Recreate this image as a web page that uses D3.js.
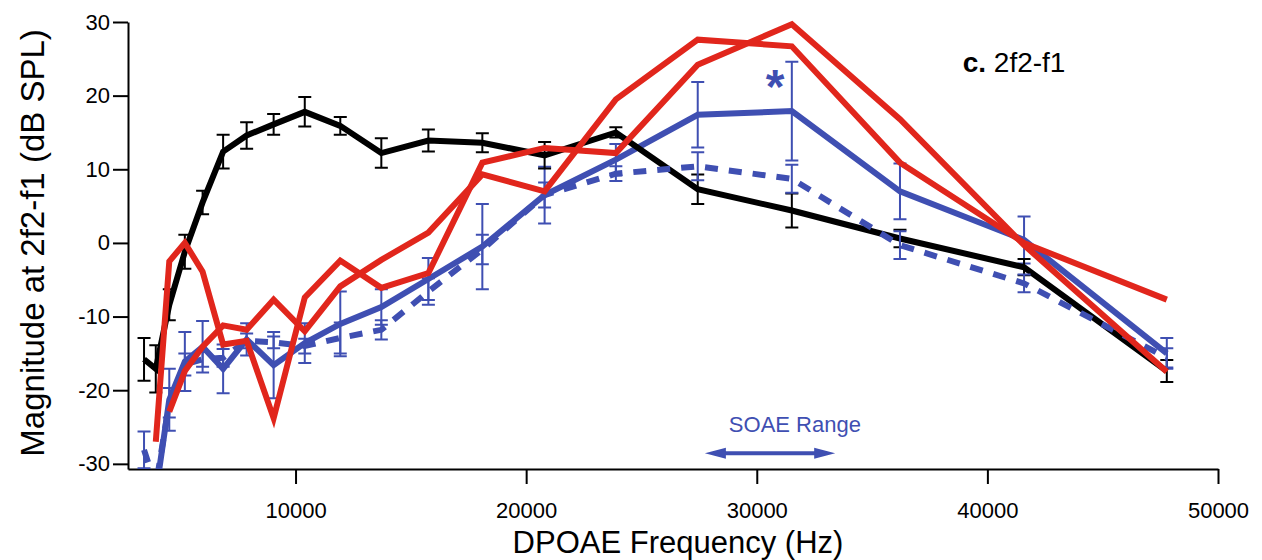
<!DOCTYPE html>
<html>
<head>
<meta charset="utf-8">
<script src="https://cdn.jsdelivr.net/npm/d3@7"></script>
<style>
  html, body { margin: 0; padding: 0; background: #fff; }
  svg { display: block; font-family: "Liberation Sans", Arial, Helvetica, sans-serif; }
  .axis path, .axis line { stroke: #000; stroke-width: 2; }
  .axis text { font-size: 22px; fill: #000; font-family: "Liberation Sans", Arial, Helvetica, sans-serif; }
</style>
</head>
<body>
<svg id="chart" width="1262" height="560"></svg>
<script>
// DPOAE frequencies (Hz), 1/5-octave steps
const freqs = [3430, 3940, 4525, 5200, 5970, 6860, 7880, 9050, 10400, 11940,
               13720, 15760, 18100, 20800, 23890, 27440, 31520, 36210, 41590, 47780];

// Mean magnitude at 2f2-f1 (dB SPL) and error bars
const blackMean = [-15.8, -17.1, -8.4, -1.2, 5.5, 12.4, 14.6, 16.1, 17.8, 15.9,
                   12.2, 13.9, 13.6, 11.9, 15.0, 7.3, 4.4, 0.6, -3.3, -17.4];
const blackErr  = [2.9, 3.2, 2.1, 2.3, 1.6, 2.3, 1.8, 1.4, 2.0, 1.2,
                   2.0, 1.5, 1.3, 1.8, 0.7, 2.0, 2.3, 1.2, 1.1, 1.5];

const blueSolid    = [null, -34, -21.3, -16.1, -14.1, -17.1, -13.1, -16.6, -13.6, -11.0,
                      -8.7, -4.9, -0.5, 6.5, 11.3, 17.4, 17.9, 7.0, 0.4, -15.0];
const blueSolidErr = [null, null, 4.2, 4.0, 3.5, 3.3, 2.2, 4.5, 2.7, 4.4,
                      2.4, 2.85, 5.8, 3.85, 2.15, 4.45, 6.7, 3.8, 3.2, 2.1];

const blueDashed    = [-28.1, -33, -21.7, -16.5, -15.8, -15.6, -13.3, -13.5, -14.0, -12.9,
                       -11.8, -6.6, -0.9, 6.5, 9.4, 10.4, 8.7, -0.3, -5.5, -15.6];
const blueDashedErr = [2.5, null, 2.0, 1.5, 1.0, 1.2, 1.0, 0.8, 1.0, 2.1,
                       1.3, 1.8, 2.0, 1.7, 1.0, 1.9, 1.9, 1.9, 1.2, 1.3];

// Individual ears (no error bars)
const redA = [null, null, -22.9, -17.4, -14.1, -11.2, -11.8, -7.7, -12.0, -5.9,
              -2.3, 1.4, 9.3, 7.0, 19.5, 27.6, 26.7, 10.9, 0.0, -7.7];
const redB = [null, -27.0, -2.5, 0.0, -3.9, -13.8, -13.3, -23.8, -7.4, -2.4,
              -6.1, -4.1, 10.9, 12.9, 12.2, 24.2, 29.7, 16.8, -0.3, -17.5];

const xTicks = [10000, 20000, 30000, 40000, 50000];
const yTicks = [-30, -20, -10, 0, 10, 20, 30];

// Spontaneous emission band and significance marker
const soaeRange = [27750, 33400];
const soaeLevel = -28.55;
const soaeLabel = "SOAE Range";
const starFreq = 30790, starLevel = 22.4;
const panelTitleBold = "c.", panelTitleText = " 2f2-f1";

const BLACK = "#000000", RED = "#e1261c", BLUE = "#3f4fb2";

const svg = d3.select("#chart");
const x = d3.scaleLinear().domain([2735, 50000]).range([128, 1218]);
const y = d3.scaleLinear().domain([-30.7, 30]).range([469, 22]);

const fmt = d => String(d);

// clip lines at the plotting area
svg.append("defs").append("clipPath").attr("id", "plot-clip")
  .append("rect")
  .attr("x", x.range()[0]).attr("y", 0)
  .attr("width", x.range()[1] - x.range()[0])
  .attr("height", y.range()[0]);

// axes
svg.append("g").attr("class", "axis")
  .attr("transform", `translate(0,${y.range()[0]})`)
  .call(d3.axisBottom(x).tickValues(xTicks).tickFormat(fmt)
        .tickSize(15).tickSizeOuter(0).tickPadding(18));

svg.append("g").attr("class", "axis")
  .attr("transform", `translate(${x.range()[0]},0)`)
  .call(d3.axisLeft(y).tickValues(yTicks).tickFormat(fmt)
        .tickSize(15).tickSizeOuter(0).tickPadding(3));

// axis titles
svg.append("text")
  .attr("x", (x(50000) + x(2735)) / 2 + 5)
  .attr("y", 553)
  .attr("text-anchor", "middle")
  .style("font-size", "31px")
  .text("DPOAE Frequency (Hz)");

svg.append("text")
  .attr("transform", `translate(44,${y(0)}) rotate(-90)`)
  .attr("text-anchor", "middle")
  .style("font-size", "33px")
  .text("Magnitude at 2f2-f1 (dB SPL)");

const plot = svg.append("g").attr("clip-path", "url(#plot-clip)");

const line = d3.line()
  .defined(d => d.v !== null)
  .x(d => x(d.f))
  .y(d => y(d.v));

const pts = vals => freqs.map((f, i) => ({ f, v: vals[i] }));

function errorBars(vals, errs, color, width) {
  const data = freqs.map((f, i) => ({ f, v: vals[i], e: errs[i] }))
    .filter(d => d.v !== null && d.e !== null);
  const g = plot.append("g").attr("stroke", color).attr("stroke-width", width).attr("fill", "none");
  const cap = 6.5;
  g.selectAll("path").data(data).join("path")
    .attr("d", d => {
      const cx = x(d.f), y0 = y(d.v - d.e), y1 = y(d.v + d.e);
      return `M${cx},${y0}V${y1}M${cx - cap},${y0}H${cx + cap}M${cx - cap},${y1}H${cx + cap}`;
    });
}

function series(vals, color, dash) {
  plot.append("path")
    .datum(pts(vals))
    .attr("fill", "none")
    .attr("stroke", color)
    .attr("stroke-width", 6)
    .attr("stroke-linejoin", "miter")
    .attr("stroke-miterlimit", 4)
    .attr("stroke-dasharray", dash || null)
    .attr("d", line);
}

// mean curves with error bars
errorBars(blueSolid, blueSolidErr, BLUE, 2);
series(blueSolid, BLUE);
errorBars(blackMean, blackErr, BLACK, 2);
series(blackMean, BLACK);
errorBars(blueDashed, blueDashedErr, BLUE, 2);
series(blueDashed, BLUE, "13,11");

// individual ears
series(redA, RED);
series(redB, RED);

// significance asterisk
svg.append("text")
  .attr("x", x(starFreq))
  .attr("y", y(starLevel))
  .attr("dy", "0.52em")
  .attr("text-anchor", "middle")
  .style("font-size", "48px")
  .style("font-weight", "bold")
  .attr("fill", BLUE)
  .text("*");

// SOAE range double arrow
{
  const x0 = x(soaeRange[0]), x1 = x(soaeRange[1]), yc = y(soaeLevel);
  const head = 21, hh = 5.5, sh = 2;
  svg.append("path")
    .attr("fill", BLUE)
    .attr("d", `M${x0},${yc}L${x0 + head},${yc - hh}L${x0 + head},${yc - sh}L${x1 - head},${yc - sh}` +
               `L${x1 - head},${yc - hh}L${x1},${yc}L${x1 - head},${yc + hh}L${x1 - head},${yc + sh}` +
               `L${x0 + head},${yc + sh}L${x0 + head},${yc + hh}Z`);
  svg.append("text")
    .attr("x", x(28790))
    .attr("y", y(-25.68))
    .style("font-size", "22px")
    .attr("fill", BLUE)
    .text(soaeLabel);
}

// panel title
{
  const t = svg.append("text")
    .attr("x", x(38930))
    .attr("y", y(23.15))
    .style("font-size", "28px");
  t.append("tspan").style("font-weight", "bold").text(panelTitleBold);
  t.append("tspan").text(panelTitleText);
}
</script>
</body>
</html>
